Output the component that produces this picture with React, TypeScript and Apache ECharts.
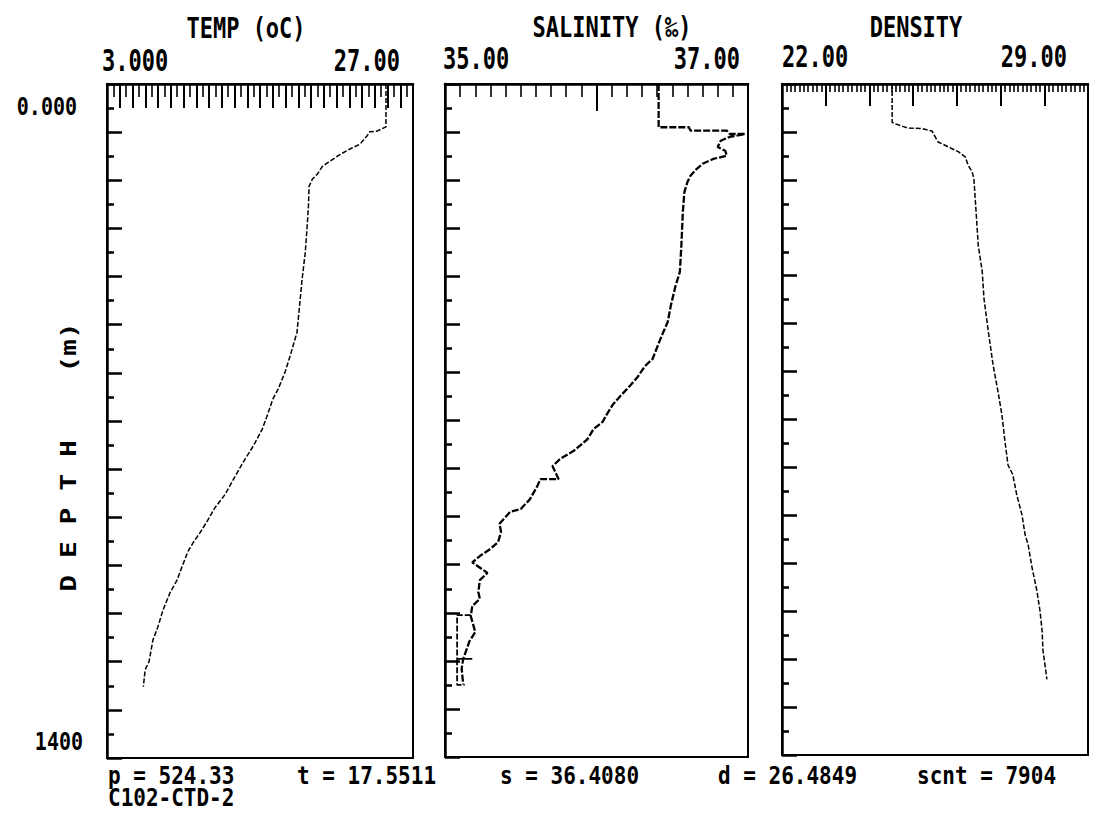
import React, { useEffect, useRef } from "react";
import * as echarts from "echarts";

// [temperature °C, depth m]
const temperatureProfile: [number, number][] = [
  [24.88, 0], [24.88, 89], [24.18, 98], [23.6, 99], [23.39, 108], [22.84, 125], [22.2, 133],
  [21.3, 146], [20.5, 160], [19.9, 171], [19.5, 187], [19.1, 198], [18.85, 212], [18.8, 254],
  [18.7, 295], [18.55, 350], [18.3, 406], [18.1, 462], [17.9, 516], [17.35, 566], [16.96, 599],
  [16.4, 635], [16.0, 655], [15.55, 690], [15.16, 718], [14.45, 753], [13.67, 786], [12.9, 822],
  [12.25, 853], [11.47, 880], [10.84, 909], [10.3, 932], [9.75, 953], [9.35, 971], [8.88, 1003],
  [8.5, 1030], [7.94, 1057], [7.4, 1092], [7.0, 1127], [6.6, 1155], [6.3, 1200], [6.05, 1213],
  [5.98, 1220], [5.85, 1252],
];

// [salinity ‰, depth m]
const salinityProfile: [number, number][] = [
  [36.41, 0], [36.41, 90], [36.61, 90], [36.62, 97], [36.86, 97], [36.88, 104], [36.98, 104],
  [36.88, 110], [36.82, 118], [36.8, 131], [36.85, 139], [36.86, 149], [36.77, 156], [36.7, 166],
  [36.66, 177], [36.62, 191], [36.6, 204], [36.58, 225], [36.57, 266], [36.56, 337], [36.55, 391],
  [36.52, 422], [36.49, 462], [36.47, 495], [36.43, 524], [36.37, 572], [36.32, 587], [36.27, 610],
  [36.22, 628], [36.17, 645], [36.11, 666], [36.07, 686], [36.04, 703], [35.98, 718], [35.94, 739],
  [35.85, 763], [35.76, 780], [35.71, 795], [35.75, 822], [35.63, 822], [35.61, 836], [35.56, 864],
  [35.5, 884], [35.43, 890], [35.36, 915], [35.37, 932], [35.35, 953], [35.3, 967], [35.23, 982],
  [35.18, 995], [35.28, 1017], [35.23, 1032], [35.22, 1057], [35.23, 1071], [35.18, 1086],
  [35.17, 1107], [35.2, 1140], [35.16, 1160], [35.15, 1170], [35.12, 1196], [35.11, 1216],
  [35.12, 1249],
];

// second salinity trace near the left edge at depth
const salinityLowerTrace: [number, number][] = [
  [35.17, 1105], [35.08, 1105], [35.08, 1196], [35.18, 1196], [35.08, 1196], [35.08, 1250],
  [35.13, 1250],
];

// [density, depth m]
const densityProfile: [number, number][] = [
  [24.52, 0], [24.52, 80], [24.59, 83], [24.88, 92], [25.2, 93], [25.43, 98], [25.57, 121],
  [25.8, 131], [26.03, 141], [26.19, 152], [26.26, 170], [26.35, 183], [26.39, 198], [26.44, 267],
  [26.49, 337], [26.58, 391], [26.62, 447], [26.71, 510], [26.83, 587], [26.94, 641], [27.03, 690],
  [27.1, 745], [27.17, 795], [27.28, 815], [27.37, 857], [27.49, 899], [27.56, 940], [27.63, 961],
  [27.72, 1009], [27.83, 1057], [27.9, 1098], [27.95, 1140], [27.97, 1182], [28.06, 1242],
];

const panelTitles = ["TEMP (oC)", "SALINITY (‰)", "DENSITY"];
const rangeLabels = [["3.000", "27.00"], ["35.00", "37.00"], ["22.00", "29.00"]];
const xRanges = [[3, 27], [35, 37], [22, 29]];
const depthRange = [0, 1400];
const depthLabels = ["0.000", "1400"];
const depthTitle = "D E P T H    (m)";
const readouts = ["p = 524.33", "t = 17.5511", "s = 36.4080", "d = 26.4849", "scnt = 7904"];
const stationName = "C102-CTD-2";

const MONO = '"DejaVu Sans Mono", monospace';

function label(text: string, x: number, y: number, align: string, size: number, scaleY: number) {
  return {
    type: "text",
    x,
    y,
    scaleY,
    silent: true,
    style: {
      text,
      fill: "#000",
      font: `bold ${size}px ${MONO}`,
      textAlign: align,
      align,
      textVerticalAlign: "middle",
      verticalAlign: "middle",
    },
  };
}

export default function App() {
  const ref = useRef<HTMLDivElement>(null);
  useEffect(() => {
    if (!ref.current) return;
    const chart = echarts.init(ref.current, undefined, { renderer: "svg" });

    const grids = [
      { left: 107, top: 84, width: 306, height: 674 },
      { left: 445, top: 84, width: 303, height: 673 },
      { left: 782, top: 84, width: 306, height: 671 },
    ];
    const tickCfg = [
      { major: 24, split: 2, minor: 13 },
      { major: 27, split: 10, minor: 13 },
      { major: 22, split: 10, minor: 8 },
    ];

    const xAxis = xRanges.map((r, i) => ({
      type: "value",
      gridIndex: i,
      position: "top",
      min: r[0],
      max: r[1],
      interval: 1,
      axisLine: { show: true, lineStyle: { color: "#000", width: 2.5 } },
      axisTick: { show: true, inside: true, length: tickCfg[i].major, lineStyle: { color: "#000", width: 2 } },
      minorTick: { show: true, splitNumber: tickCfg[i].split, length: tickCfg[i].minor, lineStyle: { color: "#000", width: 1.6 } },
      axisLabel: { show: false },
      splitLine: { show: false },
      minorSplitLine: { show: false },
    }));

    const yAxis = grids.map((_, i) => ({
      type: "value",
      gridIndex: i,
      inverse: true,
      min: depthRange[0],
      max: depthRange[1],
      interval: 100,
      axisLine: { show: true, lineStyle: { color: "#000", width: 2.5 } },
      axisTick: { show: true, inside: true, length: 15, lineStyle: { color: "#000", width: 2.5 } },
      minorTick: { show: true, splitNumber: 2, length: 7, lineStyle: { color: "#000", width: 2.5 } },
      axisLabel: { show: false },
      splitLine: { show: false },
      minorSplitLine: { show: false },
    }));

    const lineSeries = (data: [number, number][], idx: number, width: number, dash: number[]) => ({
      type: "line",
      xAxisIndex: idx,
      yAxisIndex: idx,
      data,
      symbol: "none",
      showSymbol: false,
      silent: true,
      lineStyle: { color: "#000", width, type: dash },
    });

    const graphic: any[] = [];
    const titlePos = [[246, 28], [612, 27], [916, 27]];
    panelTitles.forEach((t, i) => graphic.push(label(t, titlePos[i][0], titlePos[i][1], "center", 22, 1.3)));
    const rangePos = [
      [[102, 61], [400, 61]],
      [[443, 59], [740, 59]],
      [[782, 57], [1067, 57]],
    ];
    rangeLabels.forEach((pair, i) => {
      graphic.push(label(pair[0], rangePos[i][0][0], rangePos[i][0][1], "left", 22, 1.35));
      graphic.push(label(pair[1], rangePos[i][1][0], rangePos[i][1][1], "right", 22, 1.35));
    });
    graphic.push(label(depthLabels[0], 77, 106, "right", 20, 1.25));
    graphic.push(label(depthLabels[1], 83, 741, "right", 20, 1.25));
    const readoutX = [108, 297, 500, 718, 917];
    readouts.forEach((t, i) => graphic.push(label(t, readoutX[i], 775, "left", 21, 1.2)));
    graphic.push(label(stationName, 108, 797, "left", 21, 1.2));
    graphic.push({
      type: "text",
      x: 69,
      y: 457,
      rotation: Math.PI / 2,
      scaleY: 0.75,
      silent: true,
      style: {
        text: depthTitle,
        fill: "#000",
        font: `bold 28px "DejaVu Sans Mono", monospace`,
        textAlign: "center",
        align: "center",
        textVerticalAlign: "middle",
        verticalAlign: "middle",
      },
    });

    chart.setOption({
      animation: false,
      backgroundColor: "#fff",
      grid: grids.map((g) => ({ ...g, show: true, borderColor: "#000", borderWidth: 2, backgroundColor: "transparent" })),
      xAxis,
      yAxis,
      series: [
        lineSeries(temperatureProfile, 0, 1.5, [5, 2]),
        lineSeries(salinityProfile, 1, 2.3, [7, 2]),
        lineSeries(salinityLowerTrace, 1, 1.8, [6, 2]),
        lineSeries(densityProfile, 2, 1.5, [5, 2]),
      ],
      graphic,
    });
    return () => chart.dispose();
  }, []);
  return (
    <div
      ref={ref}
      style={{ position: "fixed", left: 0, top: 0, width: 1097, height: 834, background: "#fff" }}
    />
  );
}
